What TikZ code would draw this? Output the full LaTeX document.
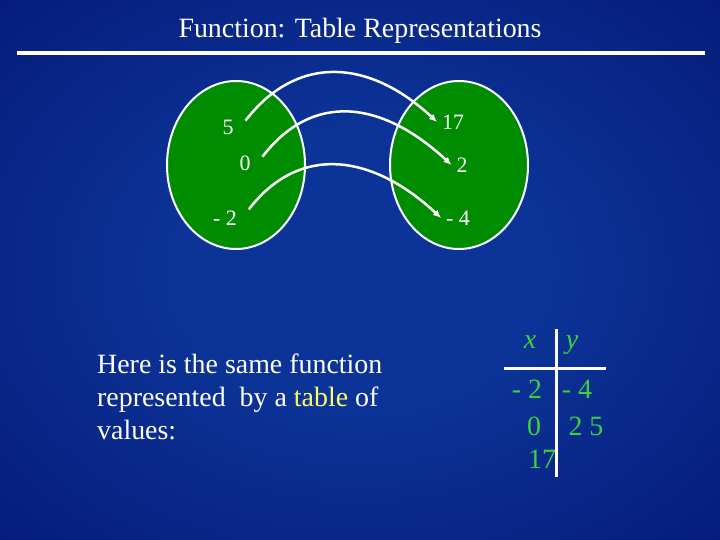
\documentclass[tikz,border=0pt]{standalone}
\usepackage{fontspec}
\setmainfont{Liberation Serif}
\usetikzlibrary{shapes.geometric, arrows.meta}
\definecolor{bgin}{HTML}{0C3498}
\definecolor{bgout}{HTML}{000864}
\definecolor{blobgreen}{HTML}{008C00}
\definecolor{tabgreen}{HTML}{3CD23C}
\definecolor{hiyellow}{HTML}{FFFF66}
\pgfdeclareradialshading{bgglow}{\pgfpoint{0bp}{0bp}}{color(0bp)=(bgin); color(12bp)=(bgin); color(55bp)=(bgout); color(75bp)=(bgout)}
\tikzset{
  blob/.style={ellipse, draw=white, line width=2bp, fill=blobgreen,
               minimum width=138bp, minimum height=168bp},
  setlbl/.style={text=white, inner sep=2bp, outer sep=3bp, font=\fontsize{22}{26}\selectfont},
  domlbl/.style={setlbl, outer sep=10bp},
  mapflow/.style={-{Latex[length=8bp, width=7bp]}, draw=white, line width=2.5bp},
  slidetxt/.style={text=white, inner sep=0pt, font=\fontsize{28}{33}\selectfont},
  tabtxt/.style={text=tabgreen, anchor=base, inner sep=0pt, font=\fontsize{28}{33}\selectfont},
  rule/.style={draw=white, line width=3bp}
}

\begin{document}
\begin{tikzpicture}[x=1bp, y=-1bp]
  \useasboundingbox (0,0) rectangle (720,540);
  \shade[shading=bgglow] (0,0) rectangle (720,540);

  % title
  \node[slidetxt, anchor=base] (title) at (360,38) {Function: Table Representations};
  \draw[rule, line width=4bp] (17,53) -- (705,53);

  % domain and range
  \node[blob] (dom) at (236,165) {};
  \node[blob] (rng) at (459,165) {};
  \node[domlbl] (five) at (228,127) {5};
  \node[domlbl] (zero) at (245,163) {0};
  \node[domlbl] (mtwo) at (225,218) {- 2};
  \node[setlbl] (seventeen) at (453,122) {17};
  \node[setlbl] (two) at (462,165) {2};
  \node[setlbl] (mfour) at (458,218) {- 4};

  \draw[mapflow] (five.20) .. controls +(50,-65) and +(-70,-65) .. (seventeen.west);
  \draw[mapflow] (zero.20) .. controls +(50,-65) and +(-70,-65) .. (two.west);
  \draw[mapflow] (mtwo.20) .. controls +(50,-65) and +(-70,-65) .. (mfour.west);

  % text
  \node[slidetxt, align=left, anchor=base west] (note) at (97,439)
    {Here is the same function\\represented~ by a \textcolor{hiyellow}{table} of\\values:};

  % table of values
  \node[tabtxt] (xhead) at (530,348) {\textit{x}};
  \node[tabtxt] (yhead) at (572,348) {\textit{y}};
  \node[tabtxt] (xa) at (527,398) {- 2};
  \node[tabtxt] (ya) at (577,398) {- 4};
  \node[tabtxt] (xb) at (534,435) {0};
  \node[tabtxt] (yb) at (586,435) {2 5};
  \node[tabtxt] (xc) at (542,468) {17};
  \draw[rule] (556,329) -- (556,477);
  \draw[rule] (504,368) -- (606,368);
\end{tikzpicture}
\end{document}
